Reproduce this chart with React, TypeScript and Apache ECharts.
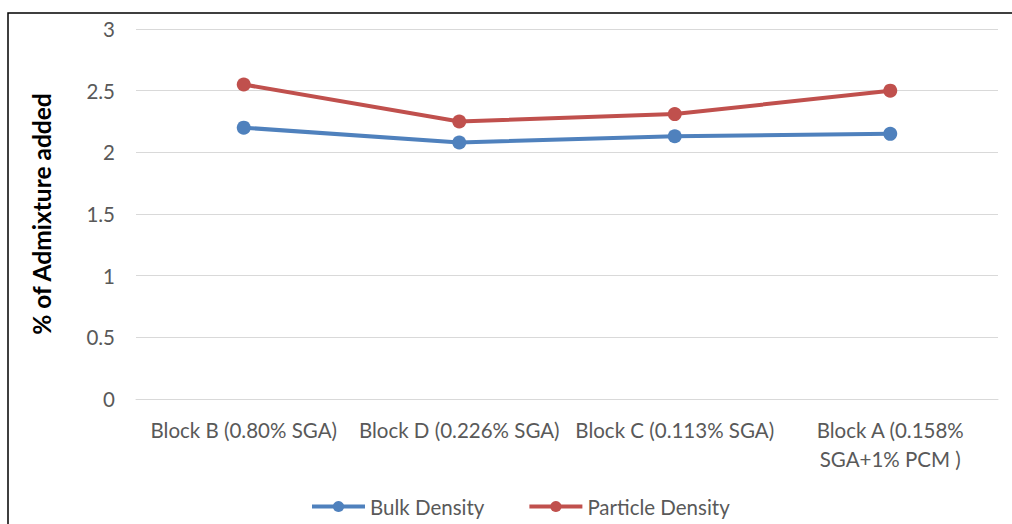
import React, { useEffect, useRef } from "react";
import * as echarts from "echarts";

const categories = [
  "Block B (0.80% SGA)",
  "Block D (0.226% SGA)",
  "Block C (0.113% SGA)",
  "Block A (0.158%\nSGA+1% PCM )",
];
const bulkDensity = [2.2, 2.08, 2.13, 2.15];
const particleDensity = [2.55, 2.25, 2.31, 2.5];
const yTicks = { min: 0, max: 3, interval: 0.5 };

const FONT = "Lato, 'Open Sans', sans-serif";

export default function App() {
  const ref = useRef<HTMLDivElement>(null);
  useEffect(() => {
    if (!ref.current) return;
    const chart = echarts.init(ref.current, null, { renderer: "svg" });
    chart.setOption({
      animation: false,
      backgroundColor: "#ffffff",
      graphic: [
        {
          type: "rect",
          shape: { x: 8, y: 13, width: 1010, height: 520 },
          style: { fill: "none", stroke: "#000000", lineWidth: 1.5 },
          silent: true,
        },
      ],
      grid: { left: 136, right: 14, top: 29, bottom: 125 },
      legend: {
        bottom: 2,
        left: 305,
        itemWidth: 53,
        itemHeight: 14,
        itemGap: 43,
        lineStyle: { width: 4 },
        textStyle: { fontFamily: FONT, fontSize: 20.5, color: "#595959" },
        data: ["Bulk Density", "Particle Density"],
      },
      xAxis: {
        type: "category",
        data: categories,
        boundaryGap: true,
        axisLine: { show: true, lineStyle: { color: "#D9D9D9", width: 1 } },
        axisTick: { show: false },
        axisLabel: {
          interval: 0,
          margin: 16,
          fontFamily: FONT,
          fontSize: 20.5,
          lineHeight: 29,
          color: "#595959",
        },
      },
      yAxis: {
        type: "value",
        min: yTicks.min,
        max: yTicks.max,
        interval: yTicks.interval,
        name: "% of Admixture added",
        nameLocation: "middle",
        nameGap: 82,
        nameTextStyle: {
          fontFamily: FONT,
          fontSize: 24.5,
          fontWeight: "bold",
          color: "#000000",
        },
        axisLine: { show: false },
        axisTick: { show: false },
        axisLabel: {
          margin: 21,
          fontFamily: FONT,
          fontSize: 20.5,
          color: "#595959",
        },
        splitLine: { lineStyle: { color: "#D9D9D9", width: 1 } },
      },
      series: [
        {
          name: "Bulk Density",
          type: "line",
          data: bulkDensity,
          symbol: "circle",
          symbolSize: 14,
          itemStyle: { color: "#4F81BD" },
          lineStyle: { color: "#4F81BD", width: 4 },
        },
        {
          name: "Particle Density",
          type: "line",
          data: particleDensity,
          symbol: "circle",
          symbolSize: 14,
          itemStyle: { color: "#C0504D" },
          lineStyle: { color: "#C0504D", width: 4 },
        },
      ],
    });
    return () => chart.dispose();
  }, []);
  return (
    <div
      ref={ref}
      style={{ position: "fixed", left: 0, top: 0, width: 1012, height: 524 }}
    />
  );
}
